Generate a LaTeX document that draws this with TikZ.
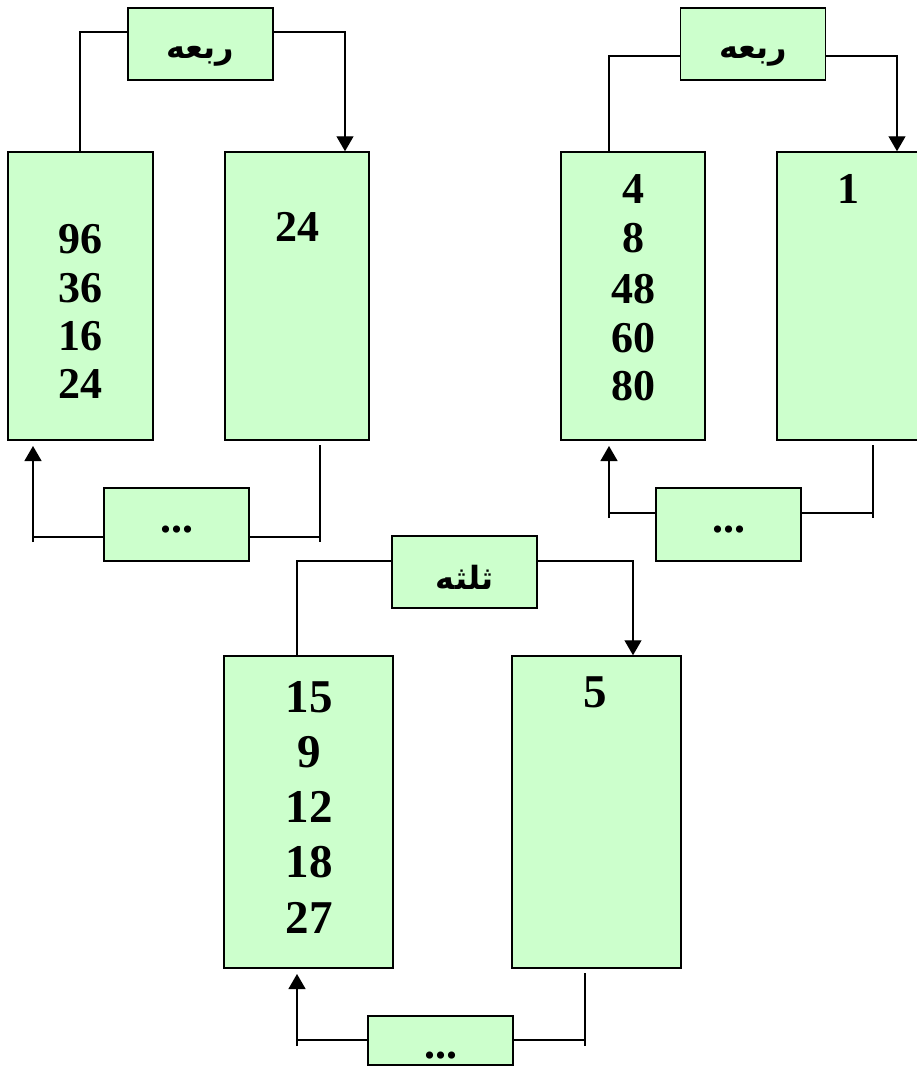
\documentclass[tikz,border=0pt]{standalone}
\usepackage{fontspec}
\setmainfont{Liberation Serif}
\newfontfamily\arabicfont[Script=Arabic]{DejaVu Sans}
\TeXXeTstate=1
\usetikzlibrary{arrows.meta}
\definecolor{boxgreen}{HTML}{CCFFCC}
\begin{document}
\begin{tikzpicture}[x=1pt,y=-1pt,
  box/.style={draw=black,fill=boxgreen,line width=1.5pt,inner sep=0pt},
  tallbox/.style={box,minimum width=144pt,minimum height=288pt},
  bigbox/.style={box,minimum width=169pt,minimum height=312pt},
  labbox/.style={box,minimum width=145pt,minimum height=72pt},
  labtext/.style={inner sep=0pt,font=\arabicfont\bfseries\fontsize{32}{32}\selectfont},
  dotbox/.style={box,minimum width=145pt,minimum height=73pt},
  num/.style={anchor=base,inner sep=0pt,font=\fontsize{44}{44}\selectfont\bfseries},
  numb/.style={anchor=base,inner sep=0pt,font=\fontsize{47}{47}\selectfont\bfseries},
  dots/.style={anchor=base,inner sep=0pt,font=\fontsize{44}{44}\selectfont\bfseries},
  conn/.style={line width=1.3pt},
  arr/.style={conn,-{Triangle[width=17pt,length=15pt]}}]
\useasboundingbox (0,0) rectangle (917,1066);

% ---------------- top-left group ----------------
\node[tallbox,minimum width=145pt] (A1) at (80.5,296) {};
\node[tallbox] (B1) at (297,296) {};
\node[labbox] (L1) at (200.5,44) {};
\node[labtext] (L1t) at (200.5,56) {\beginR ربعه\endR};
\node[dotbox] (D1) at (176.5,524.5) {};
\node[num] (n1a) at (80.5,253) {96};
\node[num] (n1b) at (80.5,302) {36};
\node[num] (n1c) at (80.5,350) {16};
\node[num] (n1d) at (80.5,398) {24};
\node[num] (m1a) at (297,241) {24};
\node[dots] (d1t) at (176.5,532) {...};

\coordinate (t1a) at (80,32);
\coordinate (t1b) at (345,32);
\draw[conn] (A1.north -| t1a) -- (t1a) -- (L1.west |- t1a);
\draw[arr] (L1.east |- t1b) -- (t1b) -- (B1.north -| t1b);

\coordinate (b1a) at (33,537);
\coordinate (b1ae) at (33,542);
\coordinate (b1at) at (33,446);
\coordinate (b1b) at (320,537);
\coordinate (b1bs) at (320,445);
\coordinate (b1be) at (320,542);
\draw[conn] (b1bs) -- (b1be);
\draw[conn] (b1b) -- (D1.east |- b1b);
\draw[conn] (D1.west |- b1a) -- (b1a);
\draw[arr] (b1ae) -- (b1at);

% ---------------- top-right group ----------------
\node[tallbox] (A2) at (633,296) {};
\node[tallbox,minimum width=148pt] (B2) at (851,296) {};
\node[labbox] (L2) at (753,44) {};
\node[labtext] (L2t) at (753,56) {\beginR ربعه\endR};
\node[dotbox] (D2) at (728.5,524.5) {};
\node[num] (n2a) at (633,203) {4};
\node[num] (n2b) at (633,252) {8};
\node[num] (n2c) at (633,303) {48};
\node[num] (n2d) at (633,352) {60};
\node[num] (n2e) at (633,400) {80};
\node[num] (m2a) at (848,203) {1};
\node[dots] (d2t) at (728.5,532) {...};

\coordinate (t2a) at (609,56);
\coordinate (t2b) at (897,56);
\draw[conn] (A2.north -| t2a) -- (t2a) -- (L2.west |- t2a);
\draw[arr] (L2.east |- t2b) -- (t2b) -- (B2.north -| t2b);

\coordinate (b2a) at (609,513);
\coordinate (b2ae) at (609,518);
\coordinate (b2at) at (609,446);
\coordinate (b2b) at (873,513);
\coordinate (b2bs) at (873,445);
\coordinate (b2be) at (873,518);
\draw[conn] (b2bs) -- (b2be);
\draw[conn] (b2b) -- (D2.east |- b2b);
\draw[conn] (D2.west |- b2a) -- (b2a);
\draw[arr] (b2ae) -- (b2at);

% ---------------- bottom group ----------------
\node[bigbox] (A3) at (308.5,812) {};
\node[bigbox] (B3) at (596.5,812) {};
\node[labbox] (L3) at (464.5,572) {};
\node[labtext] (L3t) at (464.5,577) {\beginR ثلثه\endR};
\node[dotbox,minimum height=49pt] (D3) at (440.5,1040.5) {};
\node[numb] (n3a) at (309,712) {15};
\node[numb] (n3b) at (309,767) {9};
\node[numb] (n3c) at (309,822) {12};
\node[numb] (n3d) at (309,877) {18};
\node[numb] (n3e) at (309,933) {27};
\node[numb] (m3a) at (595,707) {5};
\node[dots] (d3t) at (440.5,1058) {...};

\coordinate (t3a) at (297,561);
\coordinate (t3b) at (633,561);
\draw[conn] (A3.north -| t3a) -- (t3a) -- (L3.west |- t3a);
\draw[arr] (L3.east |- t3b) -- (t3b) -- (B3.north -| t3b);

\coordinate (b3a) at (297,1040);
\coordinate (b3ae) at (297,1046);
\coordinate (b3at) at (297,974);
\coordinate (b3b) at (585,1040);
\coordinate (b3bs) at (585,973);
\coordinate (b3be) at (585,1046);
\draw[conn] (b3bs) -- (b3be);
\draw[conn] (b3b) -- (D3.east |- b3b);
\draw[conn] (D3.west |- b3a) -- (b3a);
\draw[arr] (b3ae) -- (b3at);
\end{tikzpicture}
\end{document}
